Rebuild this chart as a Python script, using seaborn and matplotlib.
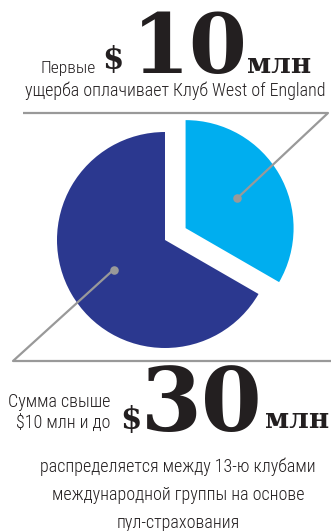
import matplotlib
matplotlib.use("Agg")
import matplotlib.pyplot as plt
import seaborn as sns
import numpy as np

# ---- data ----
labels = ["Первые $10 млн", "Свыше $10 млн и до $30 млн"]
values = [10, 20]
colors = ["#00AEEF", "#2B388F"]
explode_frac = [0.22, 0.0]

top_small = "Первые"
top_big = "10"
top_unit = "млн"
top_line2 = "ущерба оплачивает Клуб West of England"
bot_small1 = "Сумма свыше"
bot_small2 = "$10 млн и до"
bot_big = "30"
bot_unit = "млн"
bot_lines = ["распределяется между 13-ю клубами",
             "международной группы на основе",
             "пул-страхования"]

sns.set_theme(style="white")
W, H = 331, 531
fig = plt.figure(figsize=(W / 100, H / 100), dpi=100)
ax = fig.add_axes([0, 0, 1, 1])

def P(x, y):
    return (x, H - y)

R = 108
cx, cy = P(165, 240)
wedges, _ = ax.pie(values, colors=colors, explode=[e * R for e in explode_frac],
                   startangle=90, counterclock=False, radius=R, center=(cx, cy),
                   wedgeprops=dict(linewidth=0))
ax.set_xlim(0, W)
ax.set_ylim(0, H)
ax.set_aspect("auto")
ax.axis("off")

gray = "#999999"
dots = []
for w in wedges:
    mid = np.deg2rad((w.theta1 + w.theta2) / 2)
    c = w.center
    dots.append((c[0] + 0.55 * R * np.cos(mid), c[1] + 0.55 * R * np.sin(mid)))

d = dots[0]
ax.plot([23, 328, d[0]], [H - 113, H - 113, d[1]],
        color=gray, lw=1.6, solid_capstyle="butt", zorder=5)
d2 = dots[1]
ax.plot([d2[0], 13, W], [d2[1], H - 361, H - 361], color=gray, lw=1.6,
        solid_capstyle="butt", zorder=5)
for d in dots:
    ax.scatter([d[0]], [d[1]], s=38, color=gray, zorder=6, linewidths=0)

narrow = ["Roboto Condensed", "DejaVu Sans"]
serif = ["DejaVu Serif"]
tc = "#231F20"

def txt(x, y, s, size, fam, ha="left", weight="normal"):
    return ax.text(*P(x, y), s, fontsize=size, family=fam, ha=ha, va="baseline",
                   color=tc, fontweight=weight)

ns = 13
nw = "light"
txt(40, 73, top_small, 12.5, narrow, weight=nw)
txt(102, 69, "$", 22, serif, weight="bold")
txt(132, 73, top_big, 60, serif, weight="bold")
txt(247, 73, top_unit, 20, serif, weight="bold")
txt(175, 96, top_line2, ns, narrow, ha="center", weight=nw)

txt(110, 407, bot_small1, ns, narrow, ha="right", weight=nw)
txt(110, 428, bot_small2, ns, narrow, ha="right", weight=nw)
txt(120, 429, "$", 22, serif, weight="bold")
txt(141, 431, bot_big, 63, serif, weight="bold")
txt(265, 428, bot_unit, 20, serif, weight="bold")
for i, s in enumerate(bot_lines):
    txt(178, 472 + 28 * i, s, ns, narrow, ha="center", weight=nw)

fig.savefig("out.png", dpi=100)
